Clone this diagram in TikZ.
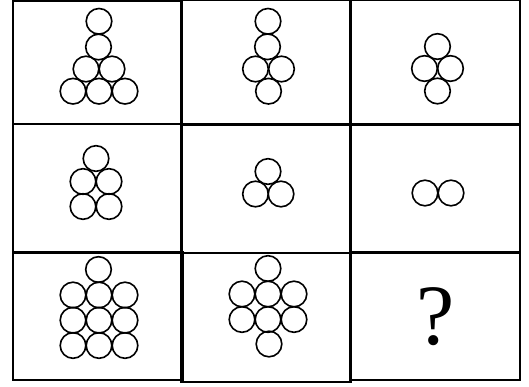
\documentclass[tikz,border=0pt]{standalone}
\usepackage{fontspec}
\setmainfont{Liberation Serif}
\begin{document}
\begin{tikzpicture}[x=1pt,y=-1pt,
  cellbox/.style={draw=black,line width=1.8pt},
  ball/.style={draw=black,line width=1.6pt}]
\useasboundingbox (0,0) rectangle (529,386);
\fill[white] (0,0) rectangle (529,386);
% grid cells
\draw[cellbox] (13,1) rectangle (182,124);
\draw[cellbox] (181,0.5) rectangle (351,125);
\draw[cellbox] (350,0.5) rectangle (520,125);
\draw[cellbox] (13,124) rectangle (182,253);
\draw[cellbox] (181,124) rectangle (351,253);
\draw[cellbox] (350,124) rectangle (520,253);
\draw[cellbox] (13,252) rectangle (183,380);
\draw[cellbox] (181,253) rectangle (351,382);
\draw[cellbox] (350,252) rectangle (520,380);
% cell 1
\foreach \p in {(99,21.3),(98.5,47),(86,69),(112,69),(73,91.2),(99,91.2),(125,91.2)}
  \draw[ball] \p circle[radius=12.8pt];
% cell 2
\foreach \p in {(268,21.3),(267.5,46.8),(255.5,69),(281.5,69),(268.5,91.2)}
  \draw[ball] \p circle[radius=12.8pt];
% cell 3
\foreach \p in {(437.5,46.5),(424.5,68.5),(450.5,68.5),(437.5,91)}
  \draw[ball] \p circle[radius=12.8pt];
% cell 4
\foreach \p in {(96,158.5),(83,181.5),(109,181.5),(83,206.5),(109,206.5)}
  \draw[ball] \p circle[radius=12.8pt];
% cell 5
\foreach \p in {(268,171.5),(255.5,194),(281,194)}
  \draw[ball] \p circle[radius=12.8pt];
% cell 6
\foreach \p in {(425,193),(451,193)}
  \draw[ball] \p circle[radius=12.8pt];
% cell 7
\foreach \p in {(98.5,269.5),(73,295),(99,295),(125,295),(73,320.2),(99,320.2),(125,320.2),(73,345.5),(99,345.5),(125,345.5)}
  \draw[ball] \p circle[radius=12.8pt];
% cell 8
\foreach \p in {(268,268.5),(242,294),(268,294),(294,294),(242,319.5),(268,319.5),(294,319.5),(269,344)}
  \draw[ball] \p circle[radius=12.8pt];
% cell 9
\node[anchor=base,inner sep=0pt,font=\fontsize{86}{86}\selectfont] (q) at (436,344.3) {?};
\end{tikzpicture}
\end{document}
